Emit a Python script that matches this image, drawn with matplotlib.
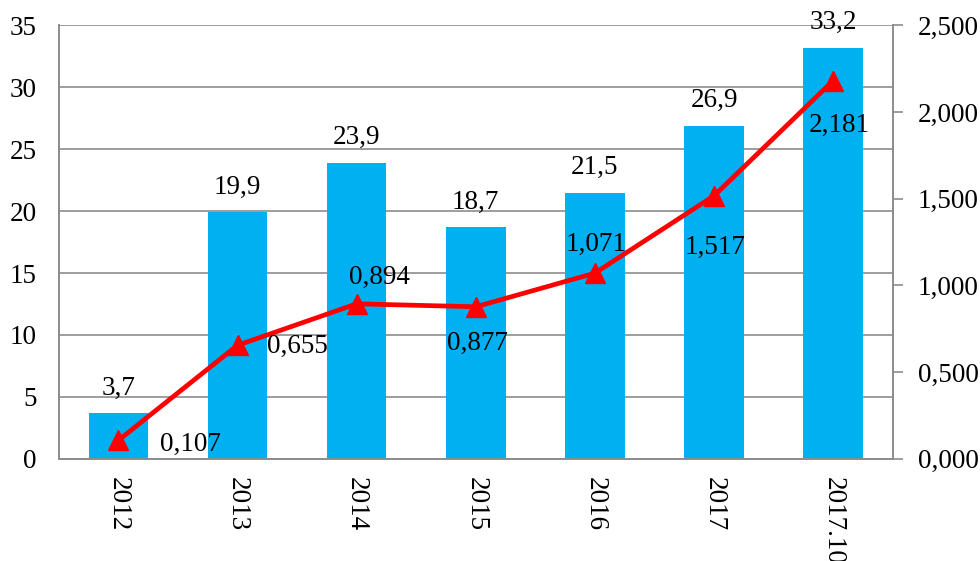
import matplotlib.pyplot as plt
import numpy as np

# data
years = ["2012", "2013", "2014", "2015", "2016", "2017", "2017.10"]
bar_vals = [3.7, 19.9, 23.9, 18.7, 21.5, 26.9, 33.2]
line_vals = [0.107, 0.655, 0.894, 0.877, 1.071, 1.517, 2.181]
# label offsets for the line values (pixels, x right / y up)
line_offsets = [(72, -4), (60, -1), (23, 26), (2, -37), (1, 29), (1, -52), (6, -45)]

plt.rcParams["font.family"] = ["Liberation Serif", "DejaVu Serif"]
plt.rcParams["font.size"] = 19.5

def comma(v, nd):
    return f"{v:.{nd}f}".replace(".", ",")

fig = plt.figure(figsize=(9.8, 5.61), dpi=100)
ax = fig.add_axes([0.060, 0.182, 0.851, 0.773])
ax2 = ax.twinx()

x = np.arange(len(years))
ax.bar(x, bar_vals, width=0.5, color="#00B0F0", zorder=2)
ax.set_xlim(-0.5, len(years) - 0.5)
ax.set_ylim(0, 35)
ax.set_yticks(np.arange(0, 36, 5))
ax.yaxis.grid(True, color="#8c8c8c", lw=1.2, zorder=0)
ax.set_axisbelow(True)
ax.set_xticks(x)
# the last label runs off the bottom edge, as in the original
ax.set_xticklabels(years, rotation=270, va="top", ha="center")
ax.tick_params(axis="y", length=0, pad=16)
ax.tick_params(axis="x", length=0, pad=13)

for xi, v in zip(x, bar_vals):
    ax.annotate(comma(v, 1), (xi, v), xytext=(0, 25), textcoords="offset pixels",
                ha="center", va="center")

ax2.plot(x, line_vals, color="#FF0000", lw=3.4, marker="^", markersize=14, zorder=3)
ax2.set_ylim(0, 2.5)
ticks = np.arange(0, 2.51, 0.5)
ax2.set_yticks(ticks)
ax2.set_yticklabels([comma(t, 3) for t in ticks])
ax2.tick_params(axis="y", length=7, width=1.2, color="#8c8c8c", pad=11)

for xi, v, (dx, dy) in zip(x, line_vals, line_offsets):
    ax2.annotate(comma(v, 3), (xi, v), xytext=(dx, dy), textcoords="offset pixels",
                 ha="center", va="center")

for a in (ax, ax2):
    a.spines["top"].set_visible(False)
    for s in ("left", "right", "bottom"):
        a.spines[s].set_color("#8c8c8c")
        a.spines[s].set_linewidth(1.2)

fig.savefig("out.png", dpi=100)
